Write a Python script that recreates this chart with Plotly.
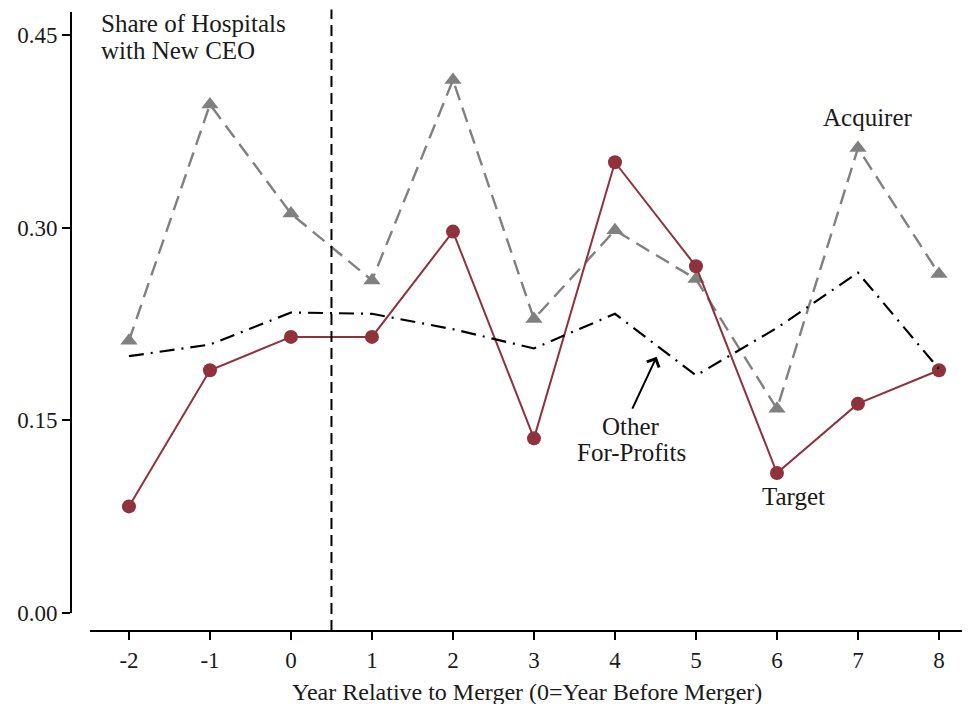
import plotly.graph_objects as go

years = [-2, -1, 0, 1, 2, 3, 4, 5, 6, 7, 8]
year_labels = ["-2", "-1", "0", "1", "2", "3", "4", "5", "6", "7", "8"]
acquirer = [0.212, 0.396, 0.311, 0.259, 0.415, 0.229, 0.298, 0.260, 0.159, 0.362, 0.264]
target = [0.083, 0.189, 0.215, 0.215, 0.297, 0.136, 0.351, 0.270, 0.109, 0.163, 0.189]
other = [0.200, 0.209, 0.234, 0.233, 0.221, 0.206, 0.233, 0.185, 0.222, 0.265, 0.190]
yticks = [0.0, 0.15, 0.30, 0.45]

FONT = "Liberation Serif"
MAROON = "#8f323b"
GRAY = "#808080"
TXT = "#1a1a1a"

# page is offset by the 8px body margin; the figure is sized to fit inside the window
W, H = 962, 696
ML, MR, MT, MB = 63, 0, 4, 73
PH = H - MT - MB


def py(v):
    """paper y from window pixel row"""
    return (631 - v) / PH


fig = go.Figure()
fig.add_trace(go.Scatter(x=years, y=acquirer, mode="lines+markers",
                         line=dict(color=GRAY, width=2.4, dash="15px,8px"),
                         marker=dict(symbol="triangle-up", size=15, color=GRAY),
                         cliponaxis=False, showlegend=False))
fig.add_trace(go.Scatter(x=years, y=target, mode="lines+markers",
                         line=dict(color=MAROON, width=2),
                         marker=dict(symbol="circle", size=14, color=MAROON),
                         cliponaxis=False, showlegend=False))
fig.add_trace(go.Scatter(x=years, y=other, mode="lines",
                         line=dict(color="black", width=2.2, dash="15px,7px,2px,7px"),
                         cliponaxis=False, showlegend=False))

fig.add_shape(type="line", x0=0.5, x1=0.5, y0=0, y1=1.004, xref="x", yref="paper",
              line=dict(color="black", width=2, dash="11px,6px"))

def label(x, yrow, text, xanchor="center", size=25):
    fig.add_annotation(x=x, y=py(yrow), xref="x", yref="paper", xanchor=xanchor,
                       yanchor="middle", text=text, showarrow=False,
                       font=dict(family=FONT, size=size, color=TXT))

label(-2.37, 23.5, "Share of Hospitals", xanchor="left")
label(-2.37, 50.5, "with New CEO", xanchor="left")
label(7.12, 117.5, "Acquirer")
label(6.20, 496, "Target")
label(4.20, 426, "Other")
label(4.20, 452, "For-Profits")
label(2.91, 692, "Year Relative to Merger (0=Year Before Merger)", size=24)

fig.add_annotation(x=4.515, y=0.1996, ax=4.206, ay=0.158, xref="x", yref="y",
                   axref="x", ayref="y", text="", showarrow=True, arrowhead=4,
                   arrowsize=1.3, arrowwidth=2, arrowcolor="black")

fig.update_layout(
    width=W, height=H,
    margin=dict(l=ML, r=MR, t=MT, b=MB),
    plot_bgcolor="white", paper_bgcolor="white",
    font=dict(family=FONT, size=22, color=TXT),
    xaxis=dict(domain=[19 / (W - ML - MR), 1], range=[-2.481, 8.383], anchor="free",
               position=0, tickvals=years, ticktext=year_labels, ticks="outside",
               ticklen=8, tickwidth=2, tickcolor="black", showline=True,
               linecolor="black", linewidth=2, showgrid=False, zeroline=False,
               tickfont=dict(family=FONT, size=23, color=TXT)),
    yaxis=dict(domain=[18 / PH, 1], range=[0, 0.468], anchor="free", position=0,
               tickvals=yticks, tickformat=".2f", ticks="outside", ticklen=8,
               tickwidth=2, tickcolor="black", showline=True, linecolor="black",
               linewidth=2, showgrid=False, zeroline=False,
               tickfont=dict(family=FONT, size=23, color=TXT)),
)

fig.write_html("out.html")
